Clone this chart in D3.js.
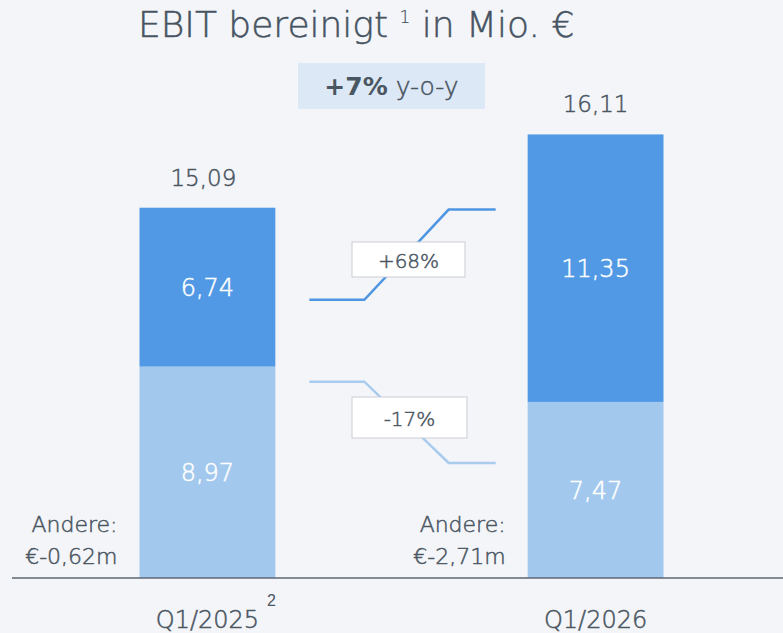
<!DOCTYPE html>
<html>
<head>
<meta charset="utf-8">
<script src="https://cdn.jsdelivr.net/npm/d3@7"></script>
<style>
  body { margin: 0; background: #f4f5f9; }
  svg { display: block; font-family: "DejaVu Sans", sans-serif; }
  text.lt { font-weight: 200; stroke-width: 0.5px; }
</style>
</head>
<body>
<div id="chart"></div>
<script>
// quarters and the two stacked segments (Mio. €)
let quarters = ["Q1/2025", "Q1/2026"];
let lightValues = [8.97, 7.47];
let darkValues = [6.74, 11.35];
let totals = ["15,09", "16,11"];
let andere = ["€-0,62m", "€-2,71m"];
let changes = ["+68%", "-17%"];

const fmt = v => v.toFixed(2).replace(".", ",");

let width = 783, height = 633;
let baseline = 578;

let svg = d3.select("#chart").append("svg")
    .attr("width", width)
    .attr("height", height);

let x = d3.scaleBand()
    .domain(quarters)
    .range([139.5, 663.5])
    .paddingInner(0.65)
    .paddingOuter(0);

let y = d3.scaleLinear()
    .domain([0, 20])
    .range([baseline, baseline - 471.4]);

let data = quarters.map((q, i) => ({
  q: q, light: lightValues[i], dark: darkValues[i], total: totals[i], andere: andere[i]
}));

let textColor = "#4a5662";

// title
let title = svg.append("text")
    .attr("class", "lt")
    .attr("x", 138)
    .attr("y", 37)
    .attr("fill", "#465361")
    .attr("stroke", "#465361")
    .style("font-size", "36px");
title.append("tspan").text("EBIT bereinigt ");
title.append("tspan").text("1").style("font-size", "17px").style("stroke-width", "0.2px").attr("dy", -14);
title.append("tspan").text(" in Mio. €").attr("dy", 14);

// y-o-y badge
svg.append("rect")
    .attr("x", 298).attr("y", 63)
    .attr("width", 187).attr("height", 46)
    .attr("fill", "#dce8f6");
let badge = svg.append("text")
    .attr("x", 391.5).attr("y", 95)
    .attr("text-anchor", "middle")
    .attr("fill", textColor)
    .style("font-size", "25px");
badge.append("tspan").text("+7%").style("font-weight", "bold");
badge.append("tspan").text(" y-o-y").style("font-weight", 200)
    .attr("stroke", textColor).style("stroke-width", "0.5px");

// bars
let g = svg.selectAll(".bar").data(data).enter().append("g").attr("class", "bar");

g.append("rect")
    .attr("x", d => x(d.q))
    .attr("width", x.bandwidth())
    .attr("y", d => y(d.light))
    .attr("height", d => baseline - y(d.light))
    .attr("fill", "#a3c8ee");

g.append("rect")
    .attr("x", d => x(d.q))
    .attr("width", x.bandwidth())
    .attr("y", d => y(d.light + d.dark))
    .attr("height", d => y(d.light) - y(d.light + d.dark))
    .attr("fill", "#5199e4");

// segment labels
g.append("text")
    .attr("class", "lt")
    .attr("x", d => x(d.q) + x.bandwidth() / 2)
    .attr("y", d => y(d.light / 2) + 9)
    .attr("text-anchor", "middle")
    .attr("fill", "#fff").attr("stroke", "#fff")
    .style("font-size", "24px")
    .text(d => fmt(d.light));

g.append("text")
    .attr("class", "lt")
    .attr("x", d => x(d.q) + x.bandwidth() / 2)
    .attr("y", d => y(d.light + d.dark / 2) + 9)
    .attr("text-anchor", "middle")
    .attr("fill", "#fff").attr("stroke", "#fff")
    .style("font-size", "24px")
    .text(d => fmt(d.dark));

// totals above
g.append("text")
    .attr("class", "lt")
    .attr("x", (d, i) => x(d.q) + x.bandwidth() / 2 - (i ? 0 : 4))
    .attr("y", d => y(d.light + d.dark) - 22)
    .attr("text-anchor", "middle")
    .attr("fill", textColor).attr("stroke", textColor)
    .style("font-size", "23px")
    .text(d => d.total);

// Andere notes
g.append("text")
    .attr("class", "lt")
    .attr("x", d => x(d.q) - 22)
    .attr("y", baseline - 46)
    .attr("text-anchor", "end")
    .attr("fill", textColor).attr("stroke", textColor)
    .style("font-size", "22px")
    .text("Andere:");
g.append("text")
    .attr("class", "lt")
    .attr("x", d => x(d.q) - 22)
    .attr("y", baseline - 14)
    .attr("text-anchor", "end")
    .attr("fill", textColor).attr("stroke", textColor)
    .style("font-size", "22px")
    .text(d => d.andere);

// x axis
let axis = svg.append("g")
    .attr("transform", "translate(0," + baseline + ")")
    .call(d3.axisBottom(x).tickSize(0).tickPadding(33));
axis.select(".domain").remove();
axis.append("line")
    .attr("x1", 12).attr("x2", width)
    .attr("stroke", "#5d6772").attr("stroke-width", 1.5);
axis.selectAll(".tick text")
    .attr("class", "lt")
    .attr("fill", textColor).attr("stroke", textColor)
    .style("font-size", "24px")
    .style("font-family", "'DejaVu Sans', sans-serif");
axis.selectAll(".tick")
    .filter(d => d === "Q1/2025")
    .append("text")
    .attr("x", 64).attr("y", 28)
    .attr("fill", textColor)
    .style("font-size", "16px")
    .style("font-weight", 200)
    .text("2");

// change connectors
let x1 = x(quarters[0]) + x.bandwidth() + 34;
let x2 = x(quarters[1]) - 32;
let connectors = [
  {label: changes[0], from: 11.8, to: 15.63, color: "#4f96e2", box: [352, 242, 113, 35]},
  {label: changes[1], from: 8.33, to: 4.88, color: "#a8cbee", box: [352, 397, 115, 41]}
];
let line = d3.line();
connectors.forEach(c => {
  let pts = [[x1, y(c.from)], [x1 + 55, y(c.from)], [x2 - 47, y(c.to)], [x2, y(c.to)]];
  svg.append("path")
      .attr("d", line(pts))
      .attr("fill", "none")
      .attr("stroke", c.color)
      .attr("stroke-width", 2.5);
  svg.append("rect")
      .attr("x", c.box[0]).attr("y", c.box[1])
      .attr("width", c.box[2]).attr("height", c.box[3])
      .attr("fill", "#fff")
      .attr("stroke", "#c9cdd3");
  svg.append("text")
      .attr("class", "lt")
      .attr("x", c.box[0] + c.box[2] / 2)
      .attr("y", c.box[1] + c.box[3] / 2 + 8)
      .attr("text-anchor", "middle")
      .attr("fill", textColor).attr("stroke", textColor)
      .style("font-size", "20px")
      .text(c.label);
});
</script>
</body>
</html>
